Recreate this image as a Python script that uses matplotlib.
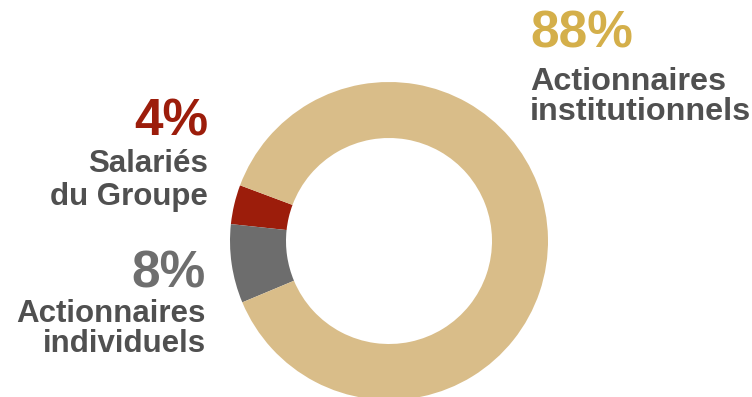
import matplotlib
matplotlib.use("Agg")
import matplotlib.pyplot as plt

# répartition de l'actionnariat
groupes = ["Salariés\ndu Groupe", "Actionnaires\nindividuels", "Actionnaires\ninstitutionnels"]
parts = [4, 8, 88]
couleurs = ["#9C1D0B", "#6D6D6D", "#D9BD89"]
couleurs_pct = ["#9C1D0B", "#6E6E6E", "#D4AF4A"]

W, H = 752, 397
fig = plt.figure(figsize=(W / 100, H / 100), dpi=100)
ax = fig.add_axes([0, 0, 1, 1])

# anneau en pixels (y vers le haut)
cx, cy, r = 389, H - 241, 159
ax.pie(parts, colors=couleurs, startangle=159.5, counterclock=True,
       center=(cx, cy), radius=r,
       wedgeprops=dict(width=r - 103, linewidth=0))

ax.set_xlim(0, W)
ax.set_ylim(0, H)
ax.set_aspect("equal")
ax.axis("off")

police = "Liberation Sans"
gris = "#505050"

def bloc(x, ha, y_pct, y_lignes, i, taille=22.5):
    # pourcentage puis les lignes du libellé, positions = lignes de base depuis le haut
    ax.text(x, H - y_pct, f"{parts[i]}%", ha=ha, va="baseline", fontsize=37,
            fontweight="bold", color=couleurs_pct[i], family=police)
    for y, ligne in zip(y_lignes, groupes[i].split("\n")):
        ax.text(x, H - y, ligne, ha=ha, va="baseline", fontsize=taille,
                fontweight="bold", color=gris, family=police)

bloc(208, "right", 135, [172, 205], 0)
bloc(206, "right", 287, [322, 352], 1)
bloc(530, "left", 47, [90, 120], 2, taille=23.3)

fig.savefig("out.png", dpi=100)
